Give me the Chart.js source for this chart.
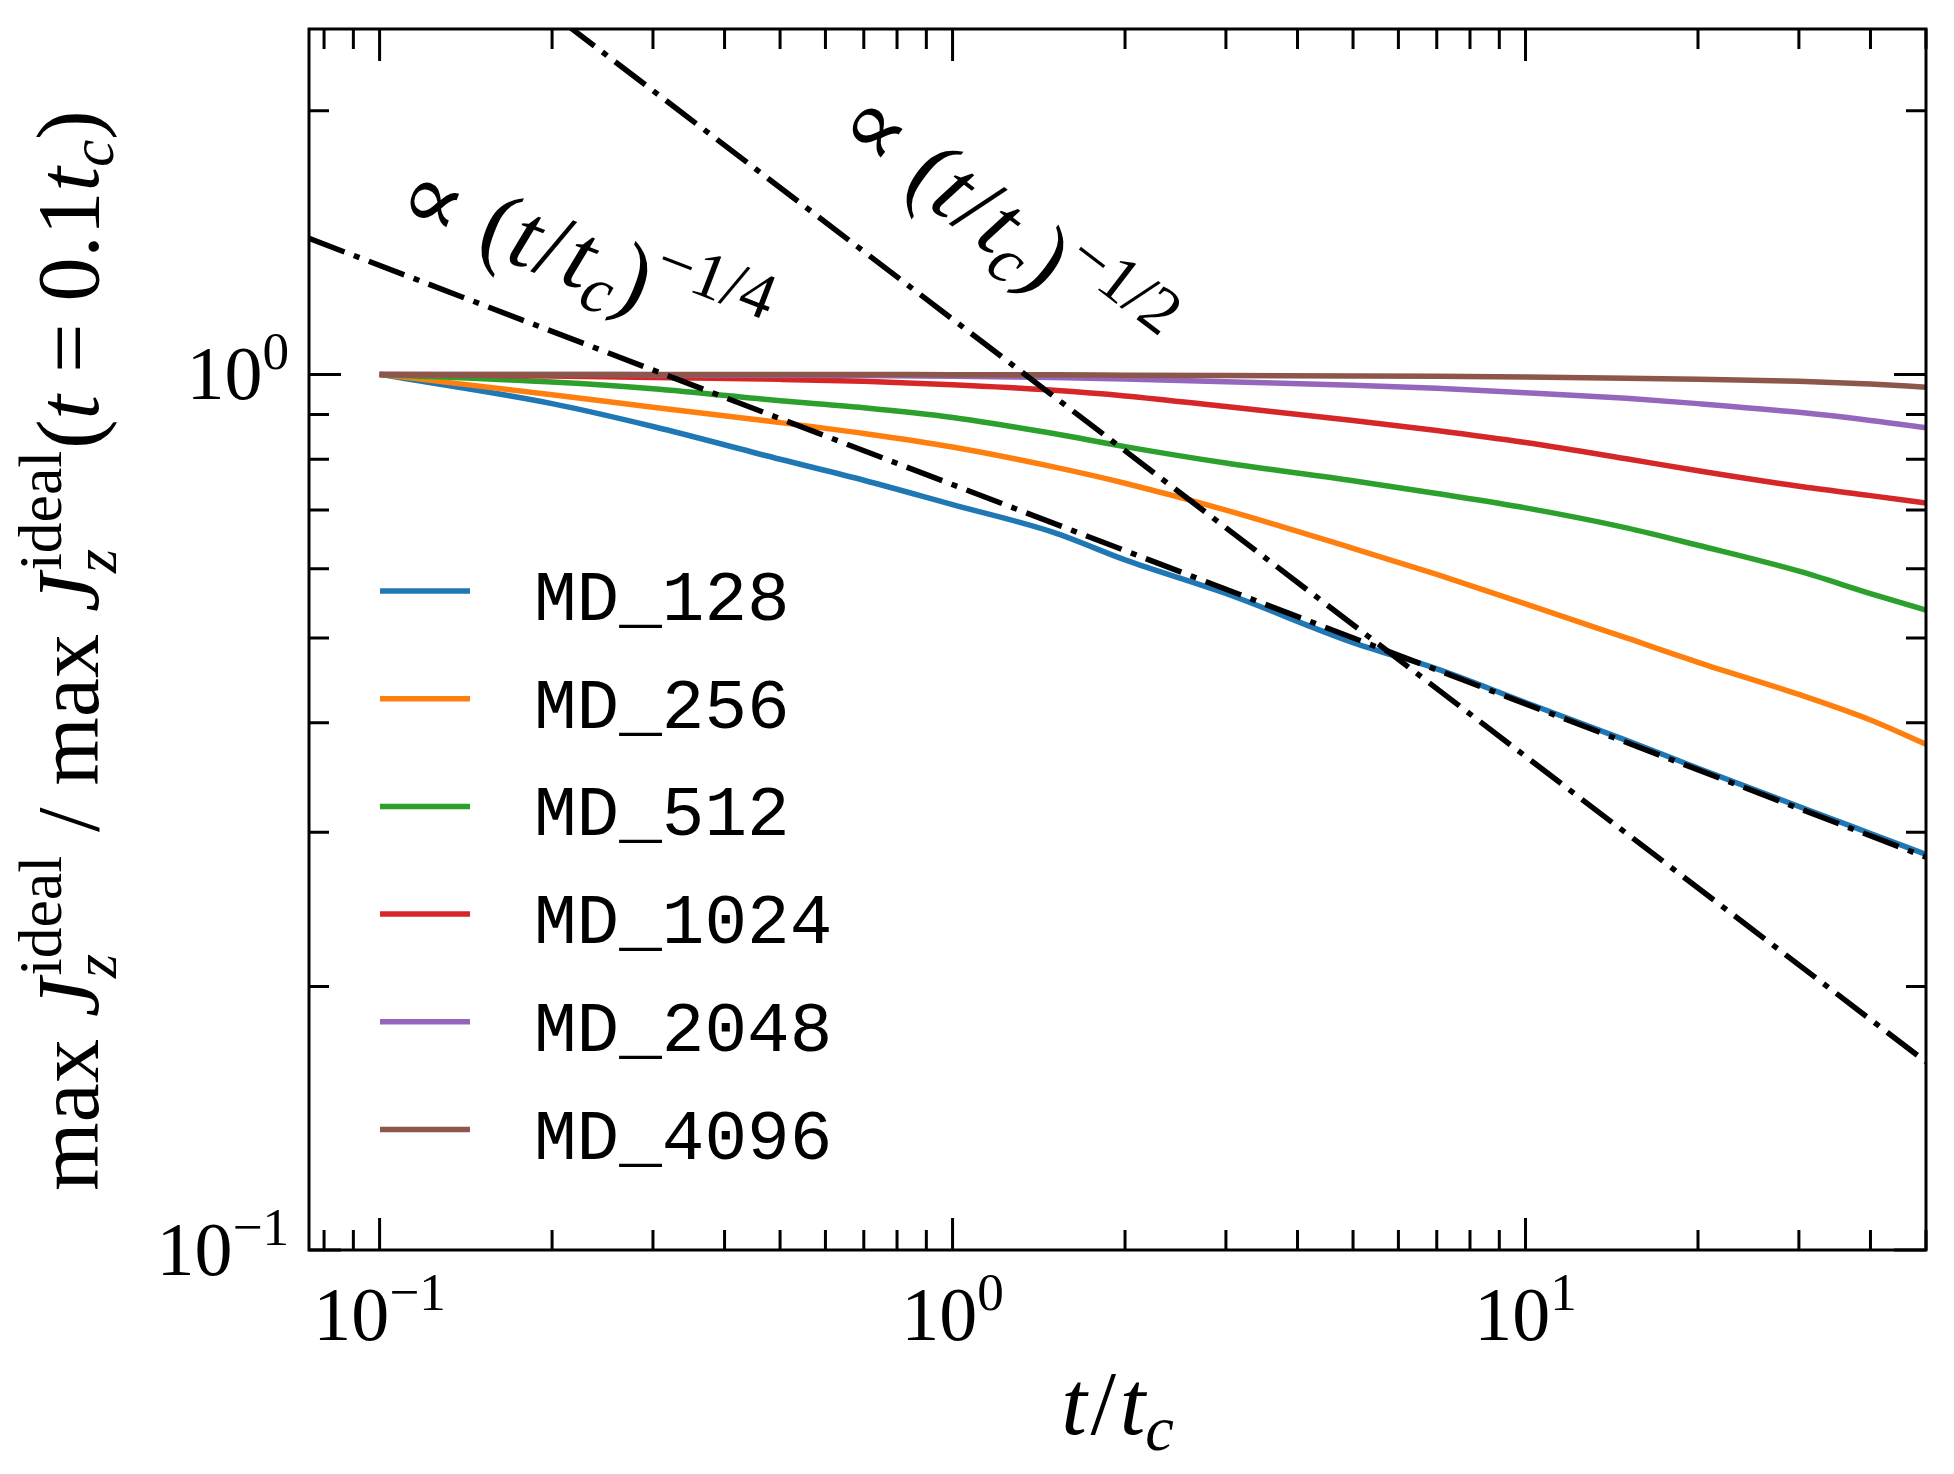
<!DOCTYPE html>
<html>
<head>
<meta charset="utf-8">
<script src="https://cdn.jsdelivr.net/npm/chart.js@4.4.1/dist/chart.umd.min.js"></script>
<style>
  html, body { margin: 0; padding: 0; background: #fff; }
  #wrap { width: 1954px; height: 1474px; }
</style>
</head>
<body>
<div id="wrap"><canvas id="chart"></canvas></div>
<script>
// t / t_c sample times
const times = [0.1, 0.2, 0.3, 0.5, 0.7, 1, 1.5, 2, 3, 5, 7, 10, 15, 20, 30, 40, 50];

const md128  = [1.0, 0.926, 0.872, 0.800, 0.757, 0.710, 0.660, 0.614, 0.562, 0.494, 0.461, 0.422, 0.382, 0.355, 0.321, 0.299, 0.283];
const md256  = [1.0, 0.948, 0.917, 0.881, 0.856, 0.826, 0.784, 0.751, 0.700, 0.633, 0.591, 0.547, 0.500, 0.469, 0.431, 0.403, 0.378];
const md512  = [1.0, 0.980, 0.963, 0.933, 0.916, 0.893, 0.856, 0.827, 0.792, 0.756, 0.731, 0.704, 0.668, 0.638, 0.596, 0.562, 0.538];
const md1024 = [1.0, 0.996, 0.992, 0.987, 0.982, 0.973, 0.959, 0.945, 0.919, 0.886, 0.863, 0.836, 0.801, 0.776, 0.745, 0.727, 0.713];
const md2048 = [1.0, 1.0, 0.999, 0.998, 0.997, 0.995, 0.992, 0.988, 0.981, 0.972, 0.964, 0.953, 0.939, 0.926, 0.905, 0.886, 0.869];
const md4096 = [1.0, 1.0, 1.0, 1.0, 1.0, 0.999, 0.999, 0.998, 0.997, 0.996, 0.995, 0.993, 0.990, 0.987, 0.982, 0.975, 0.967];

const runNames = ['MD_128', 'MD_256', 'MD_512', 'MD_1024', 'MD_2048', 'MD_4096'];
const runColors = ['#1f77b4', '#ff7f0e', '#2ca02c', '#d62728', '#9467bd', '#8c564b'];
const runValues = [md128, md256, md512, md1024, md2048, md4096];

// guide lines, end points
const quarterX = [0.0753, 50];
const quarterY = [1.43, 0.281];
const halfX = [0.21, 50];
const halfY = [2.52, 0.164];

// axis limits and tick labels
const xLimits = [0.0753, 50];
const yLimits = [0.1, 2.48];
const xTickLabels = [[0.1, '−1'], [1, '0'], [10, '1']];
const yTickLabels = [[0.1, '−1'], [1, '0']];

const SERIF = '"Liberation Serif", "DejaVu Serif", serif';
const MONO = '"Liberation Mono", "DejaVu Sans Mono", monospace';
const LW = 5.5;
const DASHDOT = [38, 10, 6, 10];

const toPoints = (xs, ys) => xs.map((x, i) => ({ x: x, y: ys[i] }));

const datasets = runNames.map((name, i) => ({
    label: name,
    data: toPoints(times, runValues[i]),
    borderColor: runColors[i],
    borderWidth: LW,
    pointRadius: 0,
    cubicInterpolationMode: 'monotone',
    order: 6 - i + 1
}));
datasets.push({
    label: '',
    data: toPoints(quarterX, quarterY),
    borderColor: '#000',
    borderWidth: LW,
    borderDash: DASHDOT,
    pointRadius: 0,
    order: 0
});
datasets.push({
    label: '',
    data: toPoints(halfX, halfY),
    borderColor: '#000',
    borderWidth: LW,
    borderDash: DASHDOT,
    pointRadius: 0,
    order: 0
});

// ---- rich text helpers (roman / italic / sub / sup) ----
function fontFor(size, it) {
    return (it ? 'italic ' : '') + size.toFixed(1) + 'px ' + SERIF;
}

function partWidth(ctx, p, size) {
    if (p.stack) {
        ctx.font = fontFor(size * 0.7, p.stack[0].i);
        const a = ctx.measureText(p.stack[0].t).width;
        ctx.font = fontFor(size * 0.7, p.stack[1].i);
        const b = ctx.measureText(p.stack[1].t).width;
        return Math.max(a, b) + size * 0.05;
    }
    const sz = p.s ? size * 0.7 : size;
    ctx.font = fontFor(sz, p.i);
    return ctx.measureText(p.t).width + (p.pad || 0) * size;
}

function richWidth(ctx, parts, size) {
    return parts.reduce((w, p) => w + partWidth(ctx, p, size), 0);
}

function drawRich(ctx, parts, x, y, size) {
    let cx = x;
    ctx.textAlign = 'left';
    ctx.textBaseline = 'alphabetic';
    parts.forEach(p => {
        if (p.stack) {
            ctx.font = fontFor(size * 0.7, p.stack[0].i);
            ctx.fillText(p.stack[0].t, cx, y + size * 0.2);
            ctx.font = fontFor(size * 0.7, p.stack[1].i);
            ctx.fillText(p.stack[1].t, cx + size * 0.03, y - size * 0.42);
        } else {
            const sz = p.s ? size * 0.7 : size;
            ctx.font = fontFor(sz, p.i);
            const dy = p.s === 'sup' ? -size * 0.4 : (p.s === 'sub' ? size * 0.17 : 0);
            ctx.fillText(p.t, cx + (p.pad || 0) * size / 2, y + dy);
        }
        cx += partWidth(ctx, p, size);
    });
}

function fitSize(ctx, parts, base, target) {
    const w = richWidth(ctx, parts, base);
    let s = base * target / w;
    return Math.max(base * 0.8, Math.min(base * 1.5, s));
}

const jPart = [{ t: 'J', i: 1 }, { stack: [{ t: 'z', i: 1 }, { t: 'ideal' }] }];
const yLabelParts = [{ t: 'max ' }].concat(jPart, [{ t: ' / max ' }], jPart, [
    { t: '(' }, { t: 't', i: 1 }, { t: ' = 0.1' }, { t: 't', i: 1 }, { t: 'c', i: 1, s: 'sub' }, { t: ')' }
]);
const xLabelParts = [{ t: 't', i: 1 }, { t: '/', pad: 0.08 }, { t: 't', i: 1 }, { t: 'c', i: 1, s: 'sub' }];
const powerParts = exp => [
    { t: '∝ ' }, { t: '(' }, { t: 't', i: 1 }, { t: '/', pad: 0.06 }, { t: 't', i: 1 }, { t: 'c', i: 1, s: 'sub' }, { t: ')' },
    { t: exp, s: 'sup' }
];

// annotation anchors (data space) and rotation in degrees
const notes = [
    { parts: powerParts('−1/4'), x: 0.226, y: 1.35, rot: 21 },
    { parts: powerParts('−1/2'), x: 1.22, y: 1.47, rot: 37.5 }
];

const axisDecor = {
    id: 'axisDecor',
    afterDatasetsDraw(chart) {
        const ctx = chart.ctx;
        const a = chart.chartArea;
        const xs = chart.scales.x, ys = chart.scales.y;
        ctx.save();
        ctx.fillStyle = '#000';
        ctx.strokeStyle = '#000';

        // ticks, inward on all four sides
        ctx.lineWidth = 3;
        ctx.lineCap = 'butt';
        ctx.beginPath();
        for (let d = -2; d <= 2; d++) {
            for (let m = 1; m <= 9; m++) {
                const v = m * Math.pow(10, d);
                const len = m === 1 ? 32 : 20;
                if (v >= xLimits[0] * 0.999 && v <= xLimits[1] * 1.001) {
                    const px = xs.getPixelForValue(v);
                    ctx.moveTo(px, a.bottom); ctx.lineTo(px, a.bottom - len);
                    ctx.moveTo(px, a.top); ctx.lineTo(px, a.top + len);
                }
                if (v >= yLimits[0] * 0.999 && v <= yLimits[1] * 1.001) {
                    const py = ys.getPixelForValue(v);
                    ctx.moveTo(a.left, py); ctx.lineTo(a.left + len, py);
                    ctx.moveTo(a.right, py); ctx.lineTo(a.right - len, py);
                }
            }
        }
        ctx.stroke();

        // frame
        ctx.lineWidth = 3;
        ctx.strokeRect(a.left, a.top, a.right - a.left, a.bottom - a.top);

        // tick labels
        const ts = 76;
        xTickLabels.forEach(([v, e]) => {
            const parts = [{ t: '10' }, { t: e, s: 'sup' }];
            const w = richWidth(ctx, parts, ts);
            drawRich(ctx, parts, xs.getPixelForValue(v) - w / 2, a.bottom + 90, ts);
        });
        yTickLabels.forEach(([v, e]) => {
            const parts = [{ t: '10' }, { t: e, s: 'sup' }];
            const w = richWidth(ctx, parts, ts);
            drawRich(ctx, parts, a.left - 20 - w, ys.getPixelForValue(v) + 25, ts);
        });

        // x axis label
        const xl = 92;
        const xw = richWidth(ctx, xLabelParts, xl);
        drawRich(ctx, xLabelParts, (a.left + a.right) / 2 - xw / 2, a.bottom + 184, xl);

        // y axis label, rotated
        const ysz = fitSize(ctx, yLabelParts, 76, 1080);
        const yw = richWidth(ctx, yLabelParts, ysz);
        ctx.save();
        ctx.translate(98, (a.top + a.bottom) / 2 + 11);
        ctx.rotate(-Math.PI / 2);
        drawRich(ctx, yLabelParts, -yw / 2, 0, ysz);
        ctx.restore();

        // power-law annotations
        notes.forEach(n => {
            const s = fitSize(ctx, n.parts, 72, 385);
            const w = richWidth(ctx, n.parts, s);
            ctx.save();
            ctx.translate(xs.getPixelForValue(n.x), ys.getPixelForValue(n.y));
            ctx.rotate(n.rot * Math.PI / 180);
            drawRich(ctx, n.parts, -w / 2, s * 0.3, s);
            ctx.restore();
        });

        // legend
        const runs = chart.data.datasets.filter(ds => ds.label);
        runs.forEach((ds, i) => {
            const ly = 591 + i * 107.7;
            ctx.strokeStyle = ds.borderColor;
            ctx.lineWidth = LW;
            ctx.setLineDash([]);
            ctx.beginPath();
            ctx.moveTo(380, ly);
            ctx.lineTo(470, ly);
            ctx.stroke();
            ctx.fillStyle = '#000';
            ctx.font = '71px ' + MONO;
            ctx.textAlign = 'left';
            ctx.textBaseline = 'alphabetic';
            ctx.fillText(ds.label, 534, ly + 29);
        });
        ctx.restore();
    }
};

new Chart(document.getElementById('chart'), {
    type: 'line',
    data: { datasets: datasets },
    options: {
        responsive: true,
        maintainAspectRatio: false,
        devicePixelRatio: 1,
        animation: false,
        layout: { padding: { left: 309, top: 29, right: 28, bottom: 224 } },
        plugins: { legend: { display: false }, tooltip: { enabled: false } },
        scales: {
            x: { type: 'logarithmic', min: xLimits[0], max: xLimits[1], display: false },
            y: { type: 'logarithmic', min: yLimits[0], max: yLimits[1], display: false }
        }
    },
    plugins: [axisDecor]
});
</script>
</body>
</html>
